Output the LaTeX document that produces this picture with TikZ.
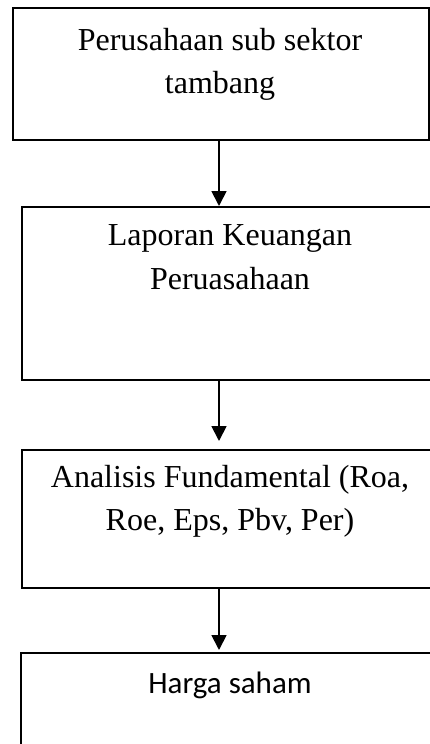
\documentclass[tikz,border=0pt]{standalone}
\usepackage{fontspec}
\setmainfont{Liberation Serif}
\newfontfamily\calfont{Carlito}
\usetikzlibrary{arrows.meta}
\begin{document}
\begin{tikzpicture}[x=1pt,y=-1pt,
  boxstyle/.style={draw, line width=1.8pt, inner sep=0pt, anchor=north west},
  txt/.style={font=\fontsize{32}{43}\selectfont, align=center, inner sep=0pt, anchor=base},
  sanstxt/.style={font=\calfont\fontsize{31}{38}\selectfont, inner sep=0pt, anchor=base},
  arr/.style={line width=1.8pt, -{Triangle[width=15pt,length=15pt]}}]
\useasboundingbox (0,0) rectangle (430,744);
\clip (0,0) rectangle (430,744);
\fill[white] (0,0) rectangle (430,744);
\node[boxstyle, minimum width=416pt, minimum height=132pt] (b1) at (12,7) {};
\node[boxstyle, minimum width=420pt, minimum height=173pt] (b2) at (21,206) {};
\node[boxstyle, minimum width=420pt, minimum height=138pt] (b3) at (21,449) {};
\node[boxstyle, minimum width=421pt, minimum height=130pt] (b4) at (20,652) {};
\node[txt] (t1a) at (220,50) {Perusahaan sub sektor};
\node[txt] (t1b) at (220,93) {tambang};
\node[txt] (t2a) at (230,245) {Laporan Keuangan};
\node[txt] (t2b) at (230,289) {Peruasahaan};
\node[txt] (t3a) at (230,487) {Analisis Fundamental (Roa,};
\node[txt] (t3b) at (230,530) {Roe, Eps, Pbv, Per)};
\node[sanstxt] (t4) at (230,693) {Harga saham};
\coordinate (ax) at (219,0);
\draw[arr] (b1.south -| ax) -- (b2.north -| ax);
\draw[arr, shorten >=8pt] (b2.south -| ax) -- (b3.north -| ax);
\draw[arr, shorten >=2pt] (b3.south -| ax) -- (b4.north -| ax);
\end{tikzpicture}
\end{document}
